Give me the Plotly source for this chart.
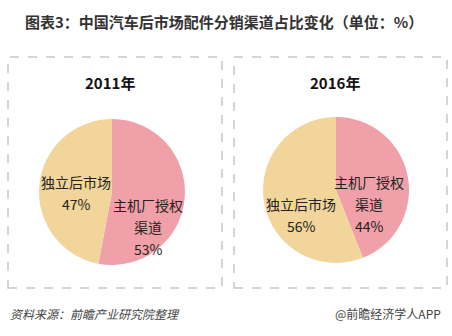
import plotly.graph_objects as go

title_text = "图表3：中国汽车后市场配件分销渠道占比变化（单位：%）"
years = ["2011年", "2016年"]
labels = ["主机厂授权<br>渠道", "独立后市场"]
values_2011 = [53, 47]
values_2016 = [44, 56]
colors = ["#F0A0A8", "#F2D59A"]
source_text = "资料来源：前瞻产业研究院整理"
brand_text = "@前瞻经济学人APP"

W, H = 452, 336
FONT = "Noto Sans CJK SC"

fig = go.Figure()
domains = [
    dict(x=[39 / W, 185 / W], y=[1 - 265 / H, 1 - 119 / H]),
    dict(x=[263 / W, 409 / W], y=[1 - 263 / H, 1 - 117 / H]),
]
for vals, dom in zip([values_2011, values_2016], domains):
    fig.add_trace(go.Pie(
        labels=labels, values=vals, sort=False, direction="clockwise", rotation=0,
        marker=dict(colors=colors, line=dict(width=0)),
        textinfo="none", hoverinfo="skip", domain=dom, showlegend=False,
    ))

# label anchor points (centre x, first-line y) per chart, per slice
label_pos = [
    [(148, 205), (76, 182)],
    [(369, 182), (301, 204)],
]
LINE = 22
annotations = []
for vals, poss in zip([values_2011, values_2016], label_pos):
    for lab, v, (cx, cy) in zip(labels, vals, poss):
        lines = lab.split("<br>") + [f"{v}%"]
        for i, ln in enumerate(lines):
            annotations.append(dict(text=ln, x=cx / W, y=1 - (cy + i * LINE) / H,
                                    font=dict(size=14, color="#222")))

# dashed boxes
for x0, x1 in [(8, 222), (234, 447)]:
    fig.add_shape(type="rect", xref="paper", yref="paper",
                  x0=x0 / W, x1=x1 / W, y0=1 - 288 / H, y1=1 - 57 / H,
                  line=dict(color="#C8C8C8", width=1.5, dash="dash"))

annotations += [
    dict(text=f"<b>{title_text}</b>", x=224 / W, y=1 - 22 / H, font=dict(size=15, color="#333")),
    dict(text=f"<b>{years[0]}</b>", x=110 / W, y=1 - 82 / H, font=dict(size=15, color="#111")),
    dict(text=f"<b>{years[1]}</b>", x=335 / W, y=1 - 82 / H, font=dict(size=15, color="#111")),
    dict(text=f"<i>{source_text}</i>", x=8 / W, y=1 - 313 / H, xanchor="left", font=dict(size=12, color="#444")),
    dict(text=brand_text, x=443 / W, y=1 - 313 / H, xanchor="right", font=dict(size=12, color="#444")),
]
for a in annotations:
    a.setdefault("xanchor", "center")
    fig.add_annotation(xref="paper", yref="paper", yanchor="middle", showarrow=False,
                       font_family=FONT, **a)

fig.update_layout(width=W, height=H, margin=dict(l=0, r=0, t=0, b=0),
                  paper_bgcolor="white", plot_bgcolor="white",
                  font=dict(family=FONT))
fig.write_html("out.html")
